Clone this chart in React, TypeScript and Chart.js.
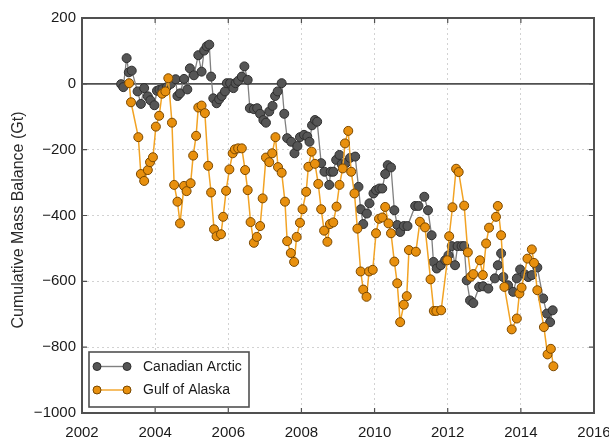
import { useEffect, useRef } from 'react';
import { Chart, registerables } from 'chart.js';

Chart.register(...registerables);

// Canadian Arctic cumulative mass balance (Gt)
const arcticYears = [
  2003.07, 2003.13, 2003.22, 2003.28, 2003.36, 2003.52, 2003.61, 2003.70, 2003.80, 2003.87,
  2003.98, 2004.05, 2004.12, 2004.20, 2004.32, 2004.43, 2004.56, 2004.61, 2004.68, 2004.79,
  2004.88, 2004.95, 2005.06, 2005.18, 2005.27, 2005.34, 2005.41, 2005.48, 2005.53, 2005.59,
  2005.68, 2005.75, 2005.82, 2005.91, 2005.96, 2006.05, 2006.14, 2006.20, 2006.27, 2006.37,
  2006.44, 2006.53, 2006.59, 2006.70, 2006.79, 2006.87, 2006.96, 2007.03, 2007.12, 2007.21,
  2007.28, 2007.35, 2007.46, 2007.53, 2007.61, 2007.72, 2007.81, 2007.89, 2007.96, 2008.07,
  2008.16, 2008.22, 2008.29, 2008.37, 2008.43, 2008.54, 2008.63, 2008.76, 2008.80, 2008.87,
  2008.95, 2009.04, 2009.10, 2009.22, 2009.33, 2009.47, 2009.56, 2009.62, 2009.69, 2009.79,
  2009.86, 2009.97, 2010.04, 2010.13, 2010.21, 2010.29, 2010.36, 2010.45, 2010.54, 2010.62,
  2010.70, 2010.80, 2010.90, 2011.11, 2011.20, 2011.36, 2011.46, 2011.56, 2011.61, 2011.70,
  2011.81, 2011.93, 2012.02, 2012.11, 2012.20, 2012.27, 2012.38, 2012.45, 2012.52, 2012.61,
  2012.70, 2012.86, 2012.97, 2013.11, 2013.29, 2013.37, 2013.46, 2013.52, 2013.65, 2013.79,
  2013.89, 2013.98, 2014.11, 2014.20, 2014.30, 2014.45, 2014.61, 2014.71, 2014.80, 2014.87,
];
const arcticMass = [
  -1, -10, 78, 35, 40, -23, -61, -13, -38, -50,
  -65, -21, -18, -16, -10, 0, 14, -37, -29, 15,
  -17, 47, 26, 87, 37, 101, 114, 119, 22, -44,
  -59, -47, -37, -23, 2, 2, -13, 2, 9, 22,
  53, 12, -74, -77, -74, -91, -110, -118, -84, -67,
  -37, -23, 2, -91, -165, -176, -211, -189, -162, -155,
  -160, -176, -126, -110, -115, -241, -267, -307, -267, -267,
  -231, -216, -244, -240, -225, -221, -313, -381, -426, -394,
  -363, -333, -323, -318, -318, -274, -247, -254, -384, -429,
  -450, -432, -432, -371, -371, -343, -384, -460, -541, -561,
  -551, -536, -521, -493, -551, -493, -493, -493, -597, -658,
  -666, -617, -615, -622, -591, -551, -515, -587, -612, -632,
  -591, -564, -579, -587, -581, -558, -652, -698, -724, -688,
];

// Gulf of Alaska cumulative mass balance (Gt)
const alaskaYears = [
  2003.29, 2003.34, 2003.54, 2003.61, 2003.70, 2003.80, 2003.86, 2003.94, 2004.02, 2004.11,
  2004.19, 2004.28, 2004.36, 2004.46, 2004.52, 2004.61, 2004.68, 2004.79, 2004.86, 2004.97,
  2005.04, 2005.12, 2005.18, 2005.27, 2005.36, 2005.45, 2005.53, 2005.61, 2005.68, 2005.80,
  2005.86, 2005.94, 2006.03, 2006.12, 2006.18, 2006.27, 2006.37, 2006.46, 2006.53, 2006.61,
  2006.70, 2006.78, 2006.87, 2006.94, 2007.03, 2007.12, 2007.20, 2007.29, 2007.36, 2007.46,
  2007.55, 2007.61, 2007.71, 2007.80, 2007.87, 2007.96, 2008.03, 2008.13, 2008.19, 2008.28,
  2008.37, 2008.46, 2008.54, 2008.62, 2008.71, 2008.78, 2008.87, 2008.96, 2009.04, 2009.13,
  2009.19, 2009.28, 2009.36, 2009.45, 2009.53, 2009.62, 2009.69, 2009.78, 2009.85, 2009.95,
  2010.04, 2010.12, 2010.21, 2010.29, 2010.38, 2010.45, 2010.54, 2010.62, 2010.70, 2010.80,
  2010.88, 2010.94, 2011.13, 2011.24, 2011.38, 2011.53, 2011.62, 2011.69, 2011.82, 2011.99,
  2012.04, 2012.13, 2012.23, 2012.30, 2012.45, 2012.55, 2012.63, 2012.70, 2012.88, 2012.96,
  2013.05, 2013.13, 2013.32, 2013.37, 2013.46, 2013.55, 2013.75, 2013.89, 2013.96, 2014.02,
  2014.18, 2014.30, 2014.36, 2014.45, 2014.63, 2014.73, 2014.82, 2014.89,
];
const alaskaMass = [
  2, -56, -162, -274, -295, -262, -238, -223, -130, -97,
  -30, -23, 17, -118, -307, -358, -424, -310, -326, -302,
  -218, -158, -72, -66, -89, -249, -330, -442, -463, -457,
  -404, -325, -260, -211, -199, -196, -196, -262, -323, -420,
  -483, -465, -432, -348, -224, -238, -211, -162, -253, -270,
  -358, -478, -514, -541, -465, -422, -381, -328, -252, -206,
  -243, -304, -381, -446, -480, -426, -421, -373, -307, -257,
  -181, -143, -267, -333, -440, -570, -625, -647, -570, -565,
  -454, -410, -406, -374, -424, -454, -540, -606, -724, -671,
  -645, -505, -510, -419, -436, -594, -690, -690, -688, -536,
  -463, -375, -258, -268, -370, -512, -586, -578, -536, -581,
  -485, -437, -404, -371, -460, -617, -746, -713, -637, -619,
  -531, -503, -544, -627, -739, -822, -805, -858,
];

const xTicks = [2002, 2004, 2006, 2008, 2010, 2012, 2014, 2016];
const yTicks = [-1000, -800, -600, -400, -200, 0, 200];

const yTitle = 'Cumulative Mass Balance (Gt)';
const arcticLabel = 'Canadian Arctic';
const alaskaLabel = 'Gulf of Alaska';

const FONT = '"Liberation Sans", Arial, sans-serif';
const FRAME = '#505050';

const arcticStyle = { line: '#808080', fill: '#555555', edge: '#2f2f2f' };
const alaskaStyle = { line: '#f2a324', fill: '#e8900e', edge: '#7a4800' };

const fmtNum = (v: number) => (v < 0 ? '\u2212' + Math.abs(v) : String(v));

function App() {
  const canvasRef = useRef<HTMLCanvasElement | null>(null);

  useEffect(() => {
    document.body.style.margin = '0';
    const canvas = canvasRef.current;
    if (!canvas) return;

    const arcticPts = arcticYears.map((x, i) => ({ x, y: arcticMass[i] }));
    const alaskaPts = alaskaYears.map((x, i) => ({ x, y: alaskaMass[i] }));

    // zero line, frame, inside tick marks, axis title and legend
    const framePlugin = {
      id: 'frame',
      beforeDatasetsDraw(chart: any) {
        const { ctx, chartArea: a, scales } = chart;
        const y0 = scales.y.getPixelForValue(0);
        ctx.save();
        ctx.strokeStyle = FRAME;
        ctx.lineWidth = 1.6;
        ctx.beginPath();
        ctx.moveTo(a.left, y0);
        ctx.lineTo(a.right, y0);
        ctx.stroke();
        ctx.restore();
      },
      afterDraw(chart: any) {
        const { ctx, chartArea: a, scales } = chart;
        ctx.save();
        ctx.strokeStyle = FRAME;
        ctx.lineWidth = 1.2;
        const tl = 5;
        ctx.beginPath();
        xTicks.forEach((v) => {
          const px = scales.x.getPixelForValue(v);
          ctx.moveTo(px, a.bottom);
          ctx.lineTo(px, a.bottom - tl);
          ctx.moveTo(px, a.top);
          ctx.lineTo(px, a.top + tl);
        });
        yTicks.forEach((v) => {
          const py = scales.y.getPixelForValue(v);
          ctx.moveTo(a.left, py);
          ctx.lineTo(a.left + tl, py);
          ctx.moveTo(a.right, py);
          ctx.lineTo(a.right - tl, py);
        });
        ctx.stroke();
        ctx.lineWidth = 2;
        ctx.strokeRect(a.left, a.top, a.right - a.left, a.bottom - a.top);

        // y-axis title
        ctx.fillStyle = '#2a2a2a';
        ctx.font = `16px ${FONT}`;
        ctx.textAlign = 'center';
        ctx.textBaseline = 'middle';
        ctx.translate(19, 220);
        ctx.rotate(-Math.PI / 2);
        ctx.fillText(yTitle, 0, 0);
        ctx.restore();

        // legend
        const bx = 89, by = 352, bw = 160, bh = 55;
        ctx.save();
        ctx.fillStyle = '#ffffff';
        ctx.fillRect(bx, by, bw, bh);
        ctx.strokeStyle = FRAME;
        ctx.lineWidth = 1.6;
        ctx.strokeRect(bx, by, bw, bh);
        const rows = [
          { label: arcticLabel, s: arcticStyle, y: 366.5 },
          { label: alaskaLabel, s: alaskaStyle, y: 390 },
        ];
        rows.forEach((r) => {
          ctx.strokeStyle = r.s.line;
          ctx.lineWidth = 1.4;
          ctx.beginPath();
          ctx.moveTo(97, r.y);
          ctx.lineTo(127, r.y);
          ctx.stroke();
          [97, 127].forEach((cx) => {
            ctx.beginPath();
            ctx.arc(cx, r.y, 4, 0, Math.PI * 2);
            ctx.fillStyle = r.s.fill;
            ctx.fill();
            ctx.strokeStyle = r.s.edge;
            ctx.lineWidth = 1;
            ctx.stroke();
          });
          ctx.fillStyle = '#1a1a1a';
          ctx.font = `14px ${FONT}`;
          ctx.textAlign = 'left';
          ctx.textBaseline = 'middle';
          ctx.fillText(r.label, 143, r.y + 0.5);
        });
        ctx.restore();
      },
    };

    const chart = new Chart(canvas, {
      type: 'line',
      data: {
        datasets: [
          {
            label: arcticLabel,
            data: arcticPts,
            order: 2,
            borderColor: arcticStyle.line,
            borderWidth: 1.3,
            pointRadius: 4.5,
            pointBackgroundColor: arcticStyle.fill,
            pointBorderColor: arcticStyle.edge,
            pointBorderWidth: 1,
            tension: 0,
          },
          {
            label: alaskaLabel,
            data: alaskaPts,
            order: 1,
            borderColor: alaskaStyle.line,
            borderWidth: 1.5,
            pointRadius: 4.5,
            pointBackgroundColor: alaskaStyle.fill,
            pointBorderColor: alaskaStyle.edge,
            pointBorderWidth: 1,
            tension: 0,
          },
        ],
      },
      options: {
        responsive: true,
        maintainAspectRatio: false,
        animation: false,
        layout: { padding: { top: 18, right: 15, left: 0, bottom: 0 } },
        plugins: {
          legend: { display: false },
          tooltip: { enabled: false },
        },
        scales: {
          x: {
            type: 'linear',
            min: 2002,
            max: 2016,
            afterBuildTicks: (s: any) => {
              s.ticks = xTicks.map((v) => ({ value: v }));
            },
            afterFit: (s: any) => {
              s.height = 27;
              s.paddingLeft = 0;
              s.paddingRight = 0;
            },
            ticks: {
              padding: 11,
              color: '#1a1a1a',
              font: { family: FONT, size: 15 },
              maxRotation: 0,
              callback: (v: any) => String(v),
            },
            grid: { color: '#d2d2d2', drawTicks: false, lineWidth: 1 },
            border: { display: false, dash: [2, 3] },
          },
          y: {
            type: 'linear',
            min: -1000,
            max: 200,
            afterBuildTicks: (s: any) => {
              s.ticks = yTicks.map((v) => ({ value: v }));
            },
            afterFit: (s: any) => {
              s.width = 82;
              s.paddingTop = 0;
              s.paddingBottom = 0;
            },
            ticks: {
              padding: 6,
              color: '#1a1a1a',
              font: { family: FONT, size: 15 },
              callback: (v: any) => fmtNum(Number(v)),
            },
            grid: { color: '#d2d2d2', drawTicks: false, lineWidth: 1 },
            border: { display: false, dash: [2, 3] },
          },
        },
      },
      plugins: [framePlugin],
    });

    return () => chart.destroy();
  }, []);

  return (
    <div style={{ width: 609, height: 440, position: 'relative', background: '#fff' }}>
      <canvas ref={canvasRef} />
    </div>
  );
}

export default App;
